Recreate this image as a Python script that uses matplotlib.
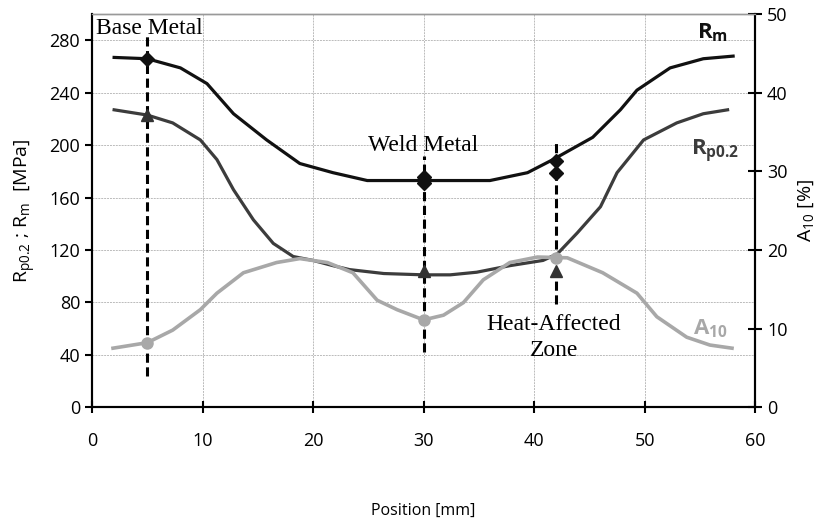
import numpy as np
import matplotlib.pyplot as plt

plt.rcParams['font.family'] = ['Open Sans', 'DejaVu Sans']
plt.rcParams['mathtext.fontset'] = 'custom'
plt.rcParams['mathtext.rm'] = 'Open Sans'
plt.rcParams['mathtext.bf'] = 'Open Sans:bold'

# Rm [MPa]
rm_x = [2, 5, 8, 10.4, 12.8, 15.8, 18.8, 21.8, 24.9, 30, 36, 39.4, 41.7, 45.3, 47.8, 49.3, 52.3, 55.3, 58]
rm_y = [267, 266, 259, 247, 224, 204, 186, 179, 173, 173, 173, 179, 189, 206, 227, 242, 259, 266, 268]

# Rp0.2 [MPa]
rp_x = [2, 5, 7.3, 9.8, 11.3, 12.8, 14.6, 16.4, 18.2, 20, 21.8, 23.3, 26.4, 30, 32.4, 34.8, 37.8, 40.8,
        42.1, 43.9, 46, 47.5, 49.9, 52.9, 55.3, 57.5]
rp_y = [227, 223, 217, 204, 189, 166, 143, 125, 115, 112, 108, 105, 102, 101, 101, 103, 108, 112,
        117, 133, 153, 179, 204, 217, 224, 227]

# A10 [%]
a10_x = [1.9, 5, 7.3, 9.8, 11.3, 13.7, 16.7, 18.8, 21.3, 23.6, 25.8, 27.6, 30, 31.8, 33.6, 35.4, 37.8,
         40.3, 43, 46.2, 49.3, 51.1, 53.8, 55.9, 57.9]
a10_y = [7.5, 8.2, 9.8, 12.4, 14.5, 17.1, 18.4, 18.9, 18.4, 17.1, 13.6, 12.4, 11.1, 11.7, 13.3, 16.2, 18.4,
         19.1, 19.0, 17.1, 14.5, 11.5, 8.9, 7.9, 7.5]

# measured points
rm_mx = [5, 30, 30, 42, 42]
rm_my = [266, 176, 171, 188, 179]
rp_mx = [5, 30, 42]
rp_my = [223, 104, 104]
a10_mx = [5, 30, 42]
a10_my = [8.2, 11.1, 19.0]

# dashed spans at measuring positions [MPa]
span_x = [5, 30, 42]
span_lo = [24, 42, 79]
span_hi = [285, 192, 204]

fig = plt.figure(figsize=(8.29, 5.26), dpi=100)
ax = fig.add_axes([0.111, 0.226, 0.8, 0.747])
ax2 = ax.twinx()

ax.grid(True, color='#bbbbbb', linestyle=(0, (2, 1)), linewidth=0.7)
ax.set_axisbelow(True)

ax.plot(rm_x, rm_y, color='#111111', lw=2.3, zorder=3)
ax.plot(rp_x, rp_y, color='#3c3c3c', lw=2.3, zorder=3)
ax2.plot(a10_x, a10_y, color='#a8a8a8', lw=2.6, zorder=3)

ax.vlines(span_x, span_lo, span_hi, colors='black', linestyles=(0, (3, 1.5)), lw=2.2, zorder=4)
ax.plot(rm_mx, rm_my, 'D', color='#111111', ms=7, zorder=5)
ax.plot(rp_mx, rp_my, '^', color='#333333', ms=8, zorder=5)
ax2.plot(a10_mx, a10_my, 'o', color='#a8a8a8', ms=8, zorder=5)

ax.set_xlim(0, 60)
ax.set_ylim(0, 300)
ax2.set_ylim(0, 50)
ax.set_xticks(range(0, 61, 10))
ax.set_yticks(range(0, 281, 40))
ax2.set_yticks(range(0, 51, 10))

for a in (ax, ax2):
    a.spines['top'].set_color('#999999')
    a.spines['top'].set_linewidth(1)
    for s in ('left', 'bottom', 'right'):
        a.spines[s].set_linewidth(1.5)
ax.tick_params(axis='both', labelsize=13, width=1.5, length=5)
ax.tick_params(axis='x', direction='inout', length=8, pad=14)
ax2.tick_params(axis='y', labelsize=13, width=1.5, length=10, direction='inout')

ax.set_xlabel('Position [mm]', fontsize=11.5, labelpad=38)
ax.set_ylabel(r'R$_{\mathrm{p0.2}}$ ; R$_{\mathrm{m}}$  [MPa]', fontsize=14, labelpad=8)
ax2.set_ylabel(r'A$_{10}$ [%]', fontsize=14, labelpad=6)

serif = ['Liberation Serif', 'DejaVu Serif']
ax.text(0.4, 289, 'Base Metal', family=serif, fontsize=17, va='center', ha='left')
ax.text(30, 200, 'Weld Metal', family=serif, fontsize=17, va='center', ha='center')
ax.text(41.8, 53, 'Heat-Affected\nZone', family=serif, fontsize=17, va='center', ha='center',
        linespacing=1.3)

ax.text(57.5, 286, r'$\mathbf{R_m}$', fontsize=16, color='#111111', ha='right', va='center')
ax.text(58.5, 195, r'$\mathbf{R_{p0.2}}$', fontsize=16, color='#3c3c3c', ha='right', va='center')
ax.text(57.5, 60, r'$\mathbf{A_{10}}$', fontsize=16, color='#a8a8a8', ha='right', va='center')

fig.savefig('out.png', dpi=100)
